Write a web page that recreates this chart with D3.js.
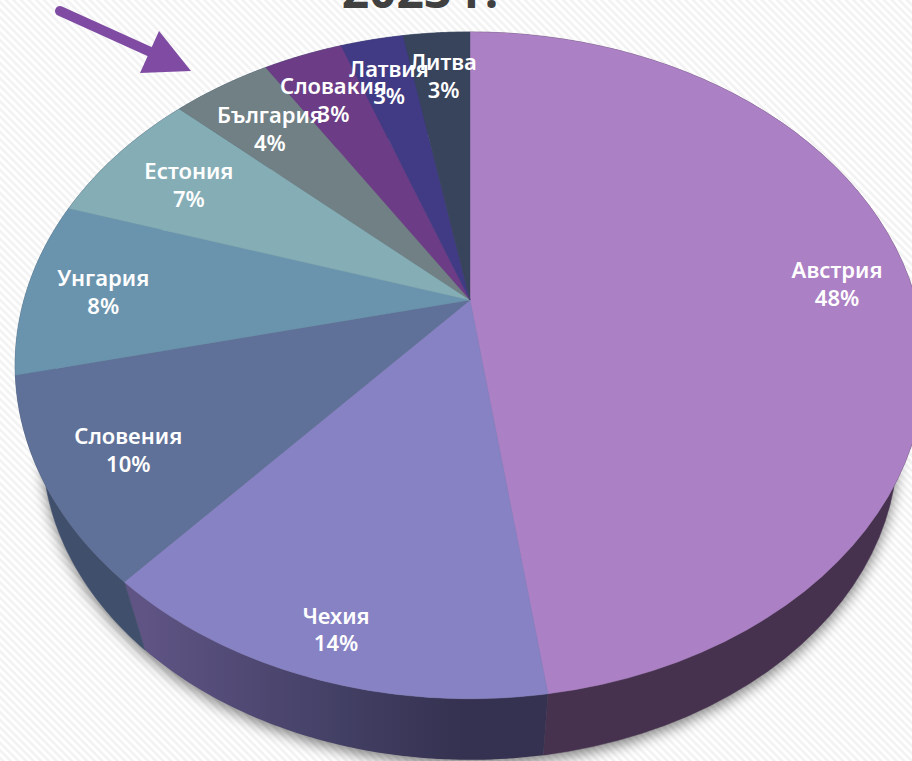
<!DOCTYPE html>
<html><head><meta charset="utf-8">
<script src="https://cdn.jsdelivr.net/npm/d3@7/dist/d3.min.js"></script>
<style>html,body{margin:0;padding:0;background:#fff;overflow:hidden}svg{display:block}</style>
</head><body><svg id="c" width="912" height="761"></svg>
<script>
const categories = ["Австрия","Чехия","Словения","Унгария","Естония","България","Словакия","Латвия","Литва"];
const shares = [47.75,13.75,9.9,8.49,6.9,4.25,3.4,2.7,2.86];
const topColors = ["#ac80c4","#8682c4","#5f7198","#6a94ae","#84adb6","#708085","#6c3c86","#413b85","#38435c"];
const sideColors = ["#46324f","#3a3454","#3f4f6c","#3b4c68","#3b4c68","#3b4c68","#3b4c68","#3b4c68","#3b4c68"];
const labelRadii = [.83,.887,.823,.833,.79,.79,.805,.822,.825];

const svg = d3.select("#c");
const W=912,H=761,cx=470,cy=300,R=446,S=320.6,k=.196;
const scaleBottom=.94, vy=1716;
const project=(a,r=1)=>{const u=r*Math.sin(a),v=-r*Math.cos(a),w=1-k*v;return [cx+R*u/w,cy+S*v/w];};
const lower=([x,y])=>[cx+scaleBottom*(x-cx),vy+scaleBottom*(y-vy)];
const arcs=d3.pie().sort(null).value(d=>d)(shares);
const samples=(a0,a1)=>d3.range(0,61).map(i=>a0+(a1-a0)*i/60);
const line=d3.line();

const defs=svg.append("defs");
const pat=defs.append("pattern").attr("id","bg").attr("width",5.4).attr("height",5.4).attr("patternUnits","userSpaceOnUse").attr("patternTransform","rotate(45)");
pat.append("rect").attr("width",5.4).attr("height",5.4).attr("fill","#ffffff");
pat.append("rect").attr("width",5.4).attr("height",2.7).attr("fill","#f3f3f3");
defs.append("filter").attr("id","blur").attr("x","-10%").attr("y","-10%").attr("width","120%").attr("height","120%")
  .append("feGaussianBlur").attr("stdDeviation",7);
const grad=defs.append("linearGradient").attr("id","czech").attr("gradientUnits","userSpaceOnUse")
  .attr("x1",145).attr("x2",543).attr("y1",0).attr("y2",0);
grad.append("stop").attr("offset",0).attr("stop-color","#5f5484");
grad.append("stop").attr("offset",.5).attr("stop-color","#423f64");
grad.append("stop").attr("offset",.8).attr("stop-color","#353150");
grad.append("stop").attr("offset",1).attr("stop-color","#353150");

svg.append("rect").attr("width",W).attr("height",H).attr("fill","url(#bg)");

// title remnant
svg.append("text").attr("x",420).attr("y",8).attr("text-anchor","middle")
  .attr("font-family","'Noto Sans',sans-serif").attr("font-weight",700).attr("font-size",48)
  .attr("fill","#404040").text("2023 г.");

// shadow
const full=samples(0,2*Math.PI);
svg.append("path").attr("d",line(full.map(a=>{const p=lower(project(a));return [p[0],p[1]+5];}))+"Z")
  .attr("fill","#000").attr("opacity",.5).attr("filter","url(#blur)");

// sides
svg.append("g").selectAll("path").data(arcs).join("path")
  .attr("d",d=>{const s=samples(d.startAngle,d.endAngle).map(a=>project(a));
    return line(s.concat(s.slice().reverse().map(lower)))+"Z";})
  .attr("fill",(d,i)=>i===1?"url(#czech)":sideColors[i])
  .attr("stroke",(d,i)=>i===1?"none":sideColors[i]).attr("stroke-width",.5);

// top
svg.append("g").selectAll("path").data(arcs).join("path")
  .attr("d",d=>line([[cx,cy]].concat(samples(d.startAngle,d.endAngle).map(a=>project(a))))+"Z")
  .attr("fill",(d,i)=>topColors[i]).attr("stroke",(d,i)=>topColors[i]).attr("stroke-width",.4);

// labels
const labels=svg.append("g").attr("font-family","'Noto Sans',sans-serif").attr("font-weight",600)
  .attr("font-size",22).attr("fill","#fff").attr("text-anchor","middle");
const lg=labels.selectAll("g").data(arcs).join("g").attr("transform",(d,i)=>{
  const p=project((d.startAngle+d.endAngle)/2,labelRadii[i]);return `translate(${p[0]+2},${p[1]})`;});
lg.append("text").attr("y",-3).text((d,i)=>categories[i]);
lg.append("text").attr("y",24.5).text(d=>Math.round(d.value)+"%");

// arrow
svg.append("line").attr("x1",60).attr("y1",11).attr("x2",155).attr("y2",54)
  .attr("stroke","#7f4ba3").attr("stroke-width",10).attr("stroke-linecap","round");
svg.append("path").attr("d",line([[159,31],[191,71],[140,73]])+"Z").attr("fill","#7f4ba3");
</script></body></html>
